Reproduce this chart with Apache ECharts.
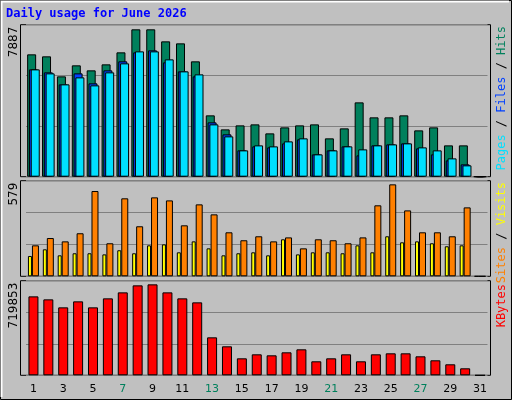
<!DOCTYPE html>
<html><head><meta charset="utf-8">
<script src="https://cdn.jsdelivr.net/npm/echarts@6/dist/echarts.min.js"></script>
<style>html,body{margin:0;padding:0;background:#c0c0c0}#c{width:512px;height:400px}</style>
</head><body><div id="c"></div>
<script>
const days = ['1','2','3','4','5','6','7','8','9','10','11','12','13','14','15','16','17','18','19','20','21','22','23','24','25','26','27','28','29','30','31'];
const weekend = ['6','7','13','14','20','21','27','28'];
const hits = [6548,6441,5370,5959,5691,6012,6654,7887,7887,7243,7136,6173,3283,2533,2747,2801,2319,2640,2747,2801,2052,2587,3978,3176,3176,3283,2480,2640,1677,1677,0];
const pages = [5744,5584,4942,5530,4995,5691,6173,6654,6761,6119,5637,5370,2908,2266,1409,1623,1570,1784,1998,1195,1409,1623,1142,1677,1730,1784,1516,1195,874,660,0];
const files = [5744,5530,4942,5316,4888,5584,6066,6708,6708,6280,5637,5477,2801,2159,1409,1677,1623,1891,2052,1195,1409,1623,1463,1677,1730,1784,1570,1409,981,607,0];
const sites = [128,170,132,145,145,138,164,145,195,201,151,220,176,132,145,151,132,233,138,151,151,145,195,151,252,214,220,208,189,195,0];
const visits = [195,241,220,271,537,208,491,315,497,478,321,453,390,277,227,252,220,245,176,233,227,208,245,447,579,415,277,277,252,434,0];
const kbytes = [624930,601190,537910,585370,537910,609100,656560,711940,719853,656560,609100,577460,300600,229400,134480,166120,158210,181940,205670,110750,134480,166120,110750,166120,174030,174030,150300,118660,87010,55370,0];
const maxLabels = ['7887','579','719853'];

const panels = [[24.7,176.7],[180.7,276.3],[280.7,375.3]];
const axMax = [8135, 602, 748900];
const grids = panels.map(p=>({left:26,right:24.5,top:p[0],height:p[1]-p[0]}));
const xAxes = [0,1,2].map(i=>({gridIndex:i,type:'category',data:days,boundaryGap:true,
  axisLine:{show:false},axisTick:{show:false},
  axisLabel:{show:i===2,margin:8,fontFamily:'DejaVu Sans',fontSize:11,
    color:v=>weekend.includes(v)?'#00805c':'#000'}}));
const yAxes = [0,1,2].map(i=>({gridIndex:i,type:'value',min:0,max:axMax[i],interval:axMax[i]/3,
  axisLabel:{show:false},axisLine:{show:false},axisTick:{show:false},
  splitLine:{lineStyle:{color:'#808080',width:1}}}));
const bs = {borderColor:'#000',borderWidth:1};
const series = [
 {type:'bar',xAxisIndex:0,yAxisIndex:0,data:hits,barWidth:9,barGap:'-80%',itemStyle:Object.assign({color:'#00805c'},bs)},
 {type:'bar',xAxisIndex:0,yAxisIndex:0,data:pages,barWidth:9,barGap:'-80%',itemStyle:Object.assign({color:'#0040ff'},bs)},
 {type:'bar',xAxisIndex:0,yAxisIndex:0,data:files,barWidth:9,barGap:'-80%',itemStyle:Object.assign({color:'#00e0ff'},bs)},
 {type:'bar',xAxisIndex:1,yAxisIndex:1,data:sites,barWidth:4,barGap:'0%',itemStyle:Object.assign({color:'#ffff00'},bs)},
 {type:'bar',xAxisIndex:1,yAxisIndex:1,data:visits,barWidth:7,barGap:'0%',itemStyle:Object.assign({color:'#ff8000'},bs)},
 {type:'bar',xAxisIndex:2,yAxisIndex:2,data:kbytes,barWidth:10,itemStyle:Object.assign({color:'#ff0000'},bs)}
];
const graphic = [
 {type:'rect',left:0,top:0,z:-10,shape:{x:0,y:0,width:511,height:399},style:{fill:'#c0c0c0',stroke:'#000',lineWidth:1}},
 {type:'polyline',z:-9,shape:{points:[[1.5,397],[1.5,1.5],[509,1.5]]},style:{stroke:'#fff',lineWidth:2,fill:null}},
 {type:'text',x:6,y:8,style:{text:'Daily usage for June 2026',fill:'#0000ff',font:'bold 12px "DejaVu Sans Mono"'}}
];
panels.forEach((p,i)=>{
  graphic.push({type:'rect',z:-5,shape:{x:20.5,y:p[0],width:470,height:p[1]-p[0]},style:{fill:'#c0c0c0',stroke:'#000',lineWidth:1}});
  graphic.push({type:'text',x:8,y:p[0]+2,rotation:Math.PI/2,style:{text:maxLabels[i],fill:'#000',font:'12px "DejaVu Sans"',align:'right',verticalAlign:'top'}});
});
const rl = (parts,y)=>({type:'text',x:496,y:y,rotation:Math.PI/2,style:{rich:{},text:'',fill:'#000'},textContent:null});
function rtext(parts,yTop){
  const rich={};let t='';
  parts.forEach((pp,k)=>{rich['s'+k]={fill:pp[1],font:'12px "DejaVu Sans Mono"'};t+='{s'+k+'|'+pp[0]+'}';});
  return {type:'text',x:496,y:yTop,rotation:Math.PI/2,style:{text:t,rich:rich,align:'right',verticalAlign:'top'}};
}
graphic.push(rtext([['Pages','#00e0ff'],[' / ','#000'],['Files','#0040ff'],[' / ','#000'],['Hits','#00805c']],26));
graphic.push(rtext([['Sites','#ff8000'],[' / ','#000'],['Visits','#ffff00']],182));
graphic.push(rtext([['KBytes','#ff0000']],284));
const chart = echarts.init(document.getElementById('c'));
chart.setOption({animation:false,backgroundColor:'#c0c0c0',grid:grids,xAxis:xAxes,yAxis:yAxes,series:series,graphic:graphic});
</script></body></html>
